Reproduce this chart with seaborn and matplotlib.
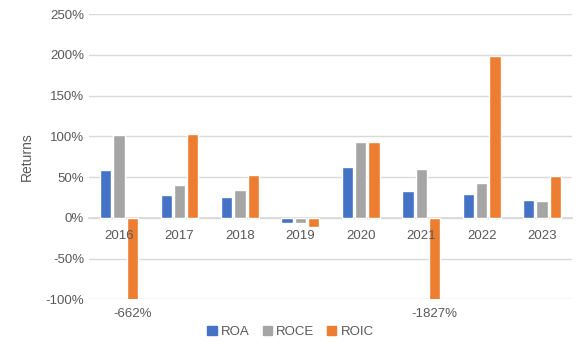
import pandas as pd
import matplotlib
matplotlib.use("Agg")
import matplotlib.pyplot as plt
import seaborn as sns
from matplotlib.ticker import FuncFormatter

years = ["2016", "2017", "2018", "2019", "2020", "2021", "2022", "2023"]
roa = [59, 28, 26, -6, 63, 33, 29.5, 22]
roce = [102, 40.5, 34, -6, 93, 60, 43, 21]
roic = [-662, 103, 52, -11, 93, -1827, 198, 51]

metrics = ["ROA", "ROCE", "ROIC"]
cores = ["#4472C4", "#A5A5A5", "#ED7D31"]
texto = "#595959"

df = pd.DataFrame({
    "Ano": years * 3,
    "Metrica": ["ROA"] * 8 + ["ROCE"] * 8 + ["ROIC"] * 8,
    "Valor": roa + roce + roic,
})

sns.set_theme(style="white")
plt.rcParams["font.family"] = ["Liberation Sans", "DejaVu Sans"]

fig, ax = plt.subplots(figsize=(5.81, 3.51), dpi=100)
fig.subplots_adjust(left=0.153, right=0.985, bottom=0.147, top=0.96)

sns.barplot(data=df, x="Ano", y="Valor", hue="Metrica", hue_order=metrics,
            palette=cores, width=0.66, gap=0.15, ax=ax, legend=False,
            saturation=1)

ax.set_ylim(-100, 250)
ax.set_yticks(range(-100, 251, 50))
ax.yaxis.set_major_formatter(FuncFormatter(lambda v, p: f"{v:.0f}%"))
ax.grid(axis="y", color="#D9D9D9", linewidth=1)
ax.set_axisbelow(True)
# rótulos dos anos por cima das barras
ax.xaxis.set_zorder(5)
for s in ["top", "right", "left"]:
    ax.spines[s].set_visible(False)
ax.spines["bottom"].set_position(("data", 0))
ax.spines["bottom"].set_color("#D9D9D9")
ax.spines["bottom"].set_zorder(0.6)
ax.tick_params(axis="both", length=0, colors=texto, labelsize=9.5)
ax.tick_params(axis="x", pad=9)
ax.set_xlabel("")
ax.set_ylabel("Returns", color=texto, fontsize=10, labelpad=8)

# rótulos dos valores cortados
for patch, v in zip(ax.containers[2].patches, roic):
    if v < -100:
        ax.annotate(f"{v:.0f}%", xy=(patch.get_x() + patch.get_width() / 2, -100),
                    xytext=(0, -15), textcoords="offset pixels",
                    ha="center", va="center", color=texto, fontsize=9.5)

handles = [plt.Rectangle((0, 0), 1, 1, color=c) for c in cores]
fig.legend(handles, metrics, loc="center", bbox_to_anchor=(0.5, 0.055), ncol=3,
           frameon=False, fontsize=9.5, handlelength=0.7, handleheight=0.7,
           handletextpad=0.3, columnspacing=1.0, labelcolor=texto)

plt.savefig("out.png", dpi=100)
